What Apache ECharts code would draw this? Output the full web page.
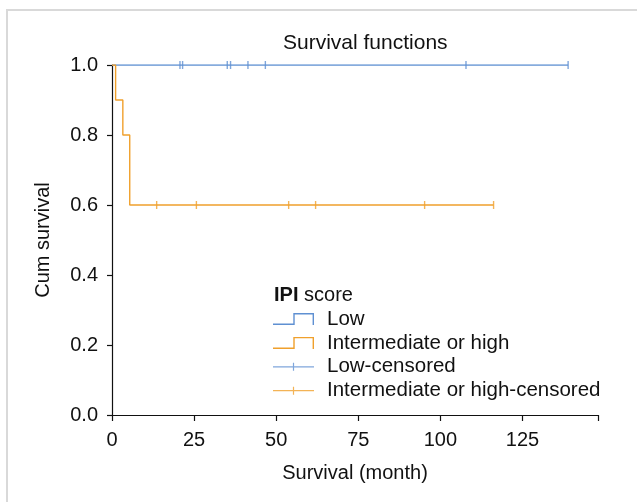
<!DOCTYPE html>
<html>
<head>
<meta charset="utf-8">
<script src="https://cdn.jsdelivr.net/npm/echarts@6/dist/echarts.min.js"></script>
<style>html,body{margin:0;padding:0;background:#fff;}#c{width:637px;height:502px;}</style>
</head>
<body>
<div id="c"></div>
<script>
// Kaplan-Meier step data [time (month), cumulative survival]
const lowSteps = [[0, 1.0], [138.9, 1.0]];
const highSteps = [[0, 1.0], [1.1, 0.9], [3.3, 0.8], [5.4, 0.6], [116.2, 0.6]];
// censored observations
const lowCensored = [[20.7, 1.0], [21.5, 1.0], [35.1, 1.0], [36.1, 1.0], [41.4, 1.0], [46.7, 1.0], [107.8, 1.0], [138.9, 1.0]];
const highCensored = [[13.6, 0.6], [25.7, 0.6], [53.8, 0.6], [62.0, 0.6], [95.2, 0.6], [116.2, 0.6]];
const seriesNames = ['Low', 'Intermediate or high', 'Low-censored', 'Intermediate or high-censored'];
const xTicks = [0, 25, 50, 75, 100, 125];
const yTicks = [0.0, 0.2, 0.4, 0.6, 0.8, 1.0];

const BLUE = '#5f90d2';
const ORANGE = '#f0a02c';
const FONT = 'Liberation Sans, Arial, sans-serif';
const stepIcon = 'path://M0,10.6 H20.3 V0 H41 V12 H39.6 V1.4 H21.7 V12 H0 Z';
const censIcon = 'path://M0,5.4 H19.9 V2 H21.1 V5.4 H41 V6.6 H21.1 V10 H19.9 V6.6 H0 Z';

const chart = echarts.init(document.getElementById('c'), null, {renderer: 'canvas'});
chart.setOption({
  animation: false,
  backgroundColor: '#fff',
  textStyle: {fontFamily: FONT},
  title: [
    {text: 'Survival functions', left: 283, top: 33, padding: 0,
     textStyle: {fontSize: 21, fontWeight: 'normal', color: '#111', fontFamily: FONT}},
    {text: '{b|IPI} score', left: 274, top: 285, padding: 0,
     textStyle: {fontSize: 20, fontWeight: 'normal', color: '#111', fontFamily: FONT,
       rich: {b: {fontSize: 20, fontWeight: 'bold', color: '#111', fontFamily: FONT}}}}
  ],
  graphic: [{
    type: 'rect', silent: true, z: -10,
    shape: {x: 7, y: 10, width: 700, height: 600},
    style: {fill: 'none', stroke: '#d9d9d9', lineWidth: 2}
  }],
  legend: {
    orient: 'vertical', left: 273, top: 308.5, padding: 0,
    itemWidth: 41, itemHeight: 12, itemGap: 2.9,
    itemStyle: {borderWidth: 0},
    textStyle: {fontSize: 20.5, color: '#111', fontFamily: FONT, padding: [0, 0, 0, 8]},
    data: [
      {name: seriesNames[0], icon: stepIcon},
      {name: seriesNames[1], icon: stepIcon},
      {name: seriesNames[2], icon: censIcon},
      {name: seriesNames[3], icon: censIcon}
    ]
  },
  grid: {left: 112, right: 39, top: 65, bottom: 87, containLabel: false},
  xAxis: {
    type: 'value', min: 0, max: 148, interval: 25,
    name: 'Survival (month)', nameLocation: 'middle', nameGap: 48,
    nameTextStyle: {fontSize: 20, color: '#111', fontFamily: FONT},
    axisLine: {lineStyle: {color: '#111', width: 1.2}},
    axisTick: {show: true, length: 6, lineStyle: {color: '#111', width: 1.2}},
    axisLabel: {fontSize: 20, color: '#111', margin: 15, fontFamily: FONT, showMaxLabel: true,
      formatter: v => xTicks.indexOf(v) >= 0 ? String(v) : ''},
    splitLine: {show: false}
  },
  yAxis: {
    type: 'value', min: 0, max: 1, interval: 0.2,
    name: 'Cum survival', nameLocation: 'middle', nameGap: 59, nameRotate: 90,
    nameTextStyle: {fontSize: 20, color: '#111', fontFamily: FONT},
    axisLine: {show: true, lineStyle: {color: '#111', width: 1.2}},
    axisTick: {show: true, length: 5, lineStyle: {color: '#111', width: 1.2}},
    axisLabel: {fontSize: 20, color: '#111', margin: 14, fontFamily: FONT,
      formatter: v => {
        const m = yTicks.find(t => Math.abs(t - v) < 1e-9);
        return m === undefined ? '' : m.toFixed(1);
      }},
    splitLine: {show: false}
  },
  series: [
    {name: seriesNames[0], type: 'line', step: 'end', data: lowSteps, showSymbol: false,
     color: BLUE, lineStyle: {color: BLUE, width: 1.4}, z: 2},
    {name: seriesNames[1], type: 'line', step: 'end', data: highSteps, showSymbol: false,
     color: ORANGE, lineStyle: {color: ORANGE, width: 1.4}, z: 2},
    {name: seriesNames[2], type: 'scatter', data: lowCensored, symbol: 'rect', symbolSize: [1.4, 8],
     color: BLUE, itemStyle: {color: BLUE}, z: 3},
    {name: seriesNames[3], type: 'scatter', data: highCensored, symbol: 'rect', symbolSize: [1.4, 8],
     color: ORANGE, itemStyle: {color: ORANGE}, z: 3}
  ]
});
</script>
</body>
</html>
